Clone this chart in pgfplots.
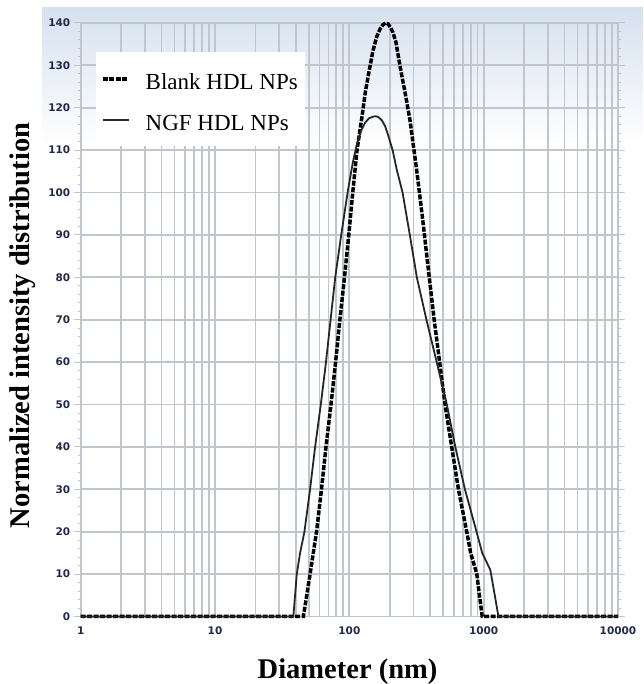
\documentclass[border=0pt]{standalone}
\usepackage{fontspec}
\setmainfont{Liberation Serif}
\newfontfamily\tickfont{DejaVu Sans}
\usepackage{pgfplots}
\pgfplotsset{compat=1.18}
\definecolor{gridc}{RGB}{192,198,206}
\definecolor{tickc}{RGB}{32,42,72}
\definecolor{bgtop}{RGB}{214,225,239}

% DLS size distributions (diameter in nm, normalized intensity)
\pgfplotstableread{
d y
1 0
45.5 0
51 10
57 20
62 30
67 40
73 50
79 60
85 70
92 80
99 90
106 100
114 110
123 117
132 124
141 129
150 133.5
160 136.8
170 138.7
178 139.6
186 140
194 139.8
202 139
211 137.8
222 135.5
241 129
262 123
283 117
318 105
352 93.5
387 82
428 70
470 60
516 50
578 40
649 30
748 20
800 15
889 10
930 5
975 0
10000 0
}\blank

\pgfplotstableread{
d y
1 0
38.3 0
40.6 10
43 15
46.3 20
51 30
55.6 40
61.3 50
67 60
72.5 70
78.5 80
87 90
97 100
106 107
113 111
122 114.5
131 116.5
140 117.5
150 117.9
157 118
165 117.8
175 117
185 115.6
195 113.4
210 110
225 105.5
249 100
282 90
318 80
375 70
447 60
532 50
615 40
725 30
885 20
975 15
1120 11
1150 9
1288 0
10000 0
}\ngf

\begin{document}
\begin{tikzpicture}[x=1pt,y=1pt]
\path[use as bounding box] (0,0) rectangle (643,684);
\shade[top color=bgtop, bottom color=white] (42,539) rectangle (643,676);
\begin{axis}[
  at={(80.7pt,67.5pt)}, anchor=south west,
  scale only axis, width=537.3pt, height=593.5pt,
  xmode=log, log basis x=10,
  xmin=1, xmax=10000, ymin=0, ymax=140,
  clip=false,
  xtick={1,10,100,1000,10000},
  xticklabels={1,10,100,1000,10000},
  minor xtick={2,3,4,5,6,7,8,9,20,30,40,50,60,70,80,90,200,300,400,500,600,700,800,900,2000,3000,4000,5000,6000,7000,8000,9000},
  ytick={0,10,...,140},
  minor y tick num=4,
  xmajorgrids=true, xminorgrids=true, ymajorgrids=true, yminorgrids=false,
  grid style={gridc, line width=1.8pt},
  minor grid style={gridc, line width=1.8pt},
  axis line style={gridc, line width=1.2pt},
  tick align=outside,
  major tick length=7pt, minor tick length=3pt,
  x tick style={draw=none},
  y tick style={gridc, line width=1pt},
  minor x tick style={draw=none},
  /pgf/number format/assume math mode=true,
  tick label style={font=\tickfont\bfseries\fontsize{10.5}{11}\selectfont, text=tickc},
  xlabel={Diameter (nm)},
  ylabel={Normalized intensity distribution},
  label style={font=\bfseries\fontsize{28.5}{30}\selectfont},
  xlabel style={at={(axis description cs:0.4966,-0.1053)}, anchor=base},
  ylabel style={at={(axis description cs:-0.0944,0.4903)}, anchor=base},
  legend style={at={(axis description cs:0.0285,0.951)}, anchor=north west,
    fill=white, draw=none, font=\fontsize{23}{25}\selectfont,
    inner xsep=5pt, inner ysep=12pt, row sep=12pt, column sep=13pt,
    cells={anchor=west, text height=23.6pt, text depth=5pt}},
  legend image code/.code={\draw[#1] (0pt,0pt) -- (26pt,0pt);},
]
\addplot[black, line width=3.5pt, dash pattern=on 5pt off 1.5pt] table[x=d, y=y] {\blank};
\addlegendentry{Blank HDL NPs}
\addplot[black!85, line width=1.8pt] table[x=d, y=y] {\ngf};
\addlegendentry{NGF HDL NPs}
\end{axis}
\end{tikzpicture}
\end{document}
